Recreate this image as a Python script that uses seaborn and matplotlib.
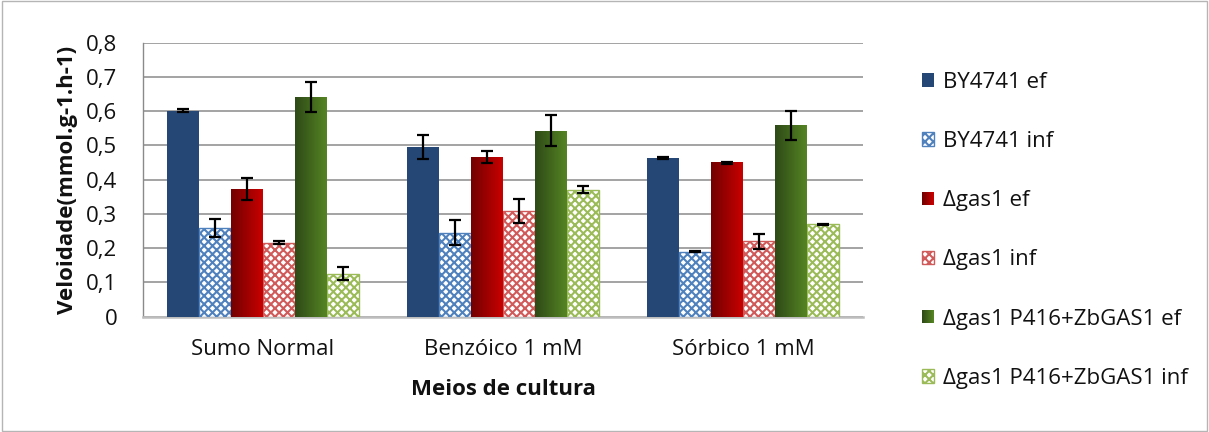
import numpy as np
import pandas as pd
import matplotlib
matplotlib.use("Agg")
import matplotlib.pyplot as plt
import seaborn as sns
from matplotlib.patches import Patch, Rectangle
from matplotlib.legend_handler import HandlerBase
from matplotlib.colors import to_rgb

# ---- data -------------------------------------------------------------
media = ["Sumo Normal", "Benzóico 1 mM", "Sórbico 1 mM"]
strains = ["BY4741 ef", "BY4741 inf", "Δgas1 ef", "Δgas1 inf",
           "Δgas1 P416+ZbGAS1 ef", "Δgas1 P416+ZbGAS1 inf"]

by_ef = [0.601, 0.496, 0.462]
by_inf = [0.259, 0.245, 0.190]
gas_ef = [0.373, 0.466, 0.450]
gas_inf = [0.216, 0.309, 0.220]
zb_ef = [0.641, 0.543, 0.559]
zb_inf = [0.126, 0.371, 0.270]

by_ef_err = [0.004, 0.035, 0.003]
by_inf_err = [0.025, 0.037, 0.002]
gas_ef_err = [0.031, 0.018, 0.003]
gas_inf_err = [0.005, 0.036, 0.021]
zb_ef_err = [0.043, 0.046, 0.042]
zb_inf_err = [0.020, 0.011, 0.002]

yticks = [0.0, 0.1, 0.2, 0.3, 0.4, 0.5, 0.6, 0.7, 0.8]
ytick_labels = ["0", "0,1", "0,2", "0,3", "0,4", "0,5", "0,6", "0,7", "0,8"]

values = [by_ef, by_inf, gas_ef, gas_inf, zb_ef, zb_inf]
errors = [by_ef_err, by_inf_err, gas_ef_err, gas_inf_err, zb_ef_err, zb_inf_err]

df = pd.DataFrame({
    "meio": [m for _ in strains for m in media],
    "estirpe": [s for s in strains for _ in media],
    "vel": [v for vals in values for v in vals],
    "err": [e for errs in errors for e in errs],
})

# ---- style ------------------------------------------------------------
sns.set_theme(style="white")
plt.rcParams["font.family"] = ["Open Sans", "DejaVu Sans"]
plt.rcParams["hatch.linewidth"] = 1.5

base = {
    "BY4741 ef": "#254775",
    "BY4741 inf": "#4f81bd",
    "Δgas1 ef": "#a00000",
    "Δgas1 inf": "#d05a5a",
    "Δgas1 P416+ZbGAS1 ef": "#4a7523",
    "Δgas1 P416+ZbGAS1 inf": "#9bbb59",
}
gradients = {
    "Δgas1 ef": ("#720000", "#c80000"),
    "Δgas1 P416+ZbGAS1 ef": ("#2e4a17", "#558422"),
}

fig = plt.figure(figsize=(12.09, 4.32), dpi=100)
ax = fig.add_axes([0.1183, 0.2669, 0.5955, 0.6343])

sns.barplot(data=df, x="meio", y="vel", hue="estirpe", order=media,
            hue_order=strains, palette=base, width=0.8, errorbar=None,
            saturation=1, ax=ax, legend=False, zorder=3)

# style each series; hatched bars for the "inf" series
for name, cont in zip(strains, ax.containers):
    for bar in cont:
        if name.endswith("inf"):
            bar.set_facecolor("white")
            bar.set_edgecolor(base[name])
            bar.set_hatch("xxxx")
            bar.set_linewidth(1.0)
        else:
            bar.set_edgecolor("none")

# left-to-right shading on the gradient-filled series
for name, cont in zip(strains, ax.containers):
    if name in gradients:
        c0, c1 = (np.array(to_rgb(c)) for c in gradients[name])
        t = np.linspace(0, 1, 64)[None, :, None]
        img = c0 + (c1 - c0) * t
        for bar in cont:
            x0, w, h = bar.get_x(), bar.get_width(), bar.get_height()
            ax.imshow(img, extent=[x0, x0 + w, 0, h], aspect="auto",
                      zorder=3.5, interpolation="bilinear")

# error bars at the bar centres
for name, cont, errs in zip(strains, ax.containers, errors):
    xs = [b.get_x() + b.get_width() / 2 for b in cont]
    ys = [b.get_height() for b in cont]
    ax.errorbar(xs, ys, yerr=errs, fmt="none", ecolor="black",
                elinewidth=1.6, capsize=4.5, capthick=1.6, zorder=6)

# ---- axes -------------------------------------------------------------
ax.set_xlim(-0.5, 2.5)
ax.set_ylim(0, 0.8)
ax.set_yticks(yticks)
ax.set_yticklabels(ytick_labels)
ax.yaxis.grid(True, color="#8a8a8a", linewidth=1.1, zorder=0)
ax.set_axisbelow(True)

for side in ["top", "right"]:
    ax.spines[side].set_visible(False)
ax.spines["left"].set_color("#8a8a8a")
ax.spines["left"].set_linewidth(1.0)
ax.spines["bottom"].set_color("#bdbdbd")
ax.spines["bottom"].set_linewidth(1.8)

ax.tick_params(axis="y", which="major", direction="out", length=7.5,
               width=1.0, color="#8a8a8a", labelsize=16, pad=11,
               labelcolor="#111111")
ax.tick_params(axis="x", which="major", length=0, labelsize=16, pad=16,
               labelcolor="#111111")
ax.set_xticks([-0.5, 0.5, 1.5, 2.5], minor=True)
ax.tick_params(axis="x", which="minor", direction="out", length=6.5,
               width=1.0, color="#8a8a8a")

ax.set_xlabel("Meios de cultura", fontsize=16, fontweight="bold",
              labelpad=14, color="#111111")
ax.set_ylabel("Veloidade(mmol.g-1.h-1)", fontsize=16, fontweight="bold",
              labelpad=6, color="#111111")


# ---- legend -----------------------------------------------------------
class GradientHandler(HandlerBase):
    def __init__(self, c0, c1, n=12):
        super().__init__()
        self.c0 = np.array(to_rgb(c0))
        self.c1 = np.array(to_rgb(c1))
        self.n = n

    def create_artists(self, legend, orig_handle, xdescent, ydescent,
                       width, height, fontsize, trans):
        arts = []
        for i in range(self.n):
            col = self.c0 + (self.c1 - self.c0) * i / (self.n - 1)
            arts.append(Rectangle((-xdescent + i * width / self.n, -ydescent),
                                  width / self.n * 1.05, height,
                                  facecolor=col, edgecolor="none",
                                  transform=trans))
        return arts


handles = []
handler_map = {}
for name in strains:
    if name.endswith("inf"):
        h = Patch(facecolor="white", edgecolor=base[name], hatch="xxxx",
                  linewidth=1.0)
    else:
        h = Patch(facecolor=base[name], edgecolor="none")
        if name in gradients:
            handler_map[h] = GradientHandler(*gradients[name])
    handles.append(h)

fig.legend(handles, strains, handler_map=handler_map, loc="center left",
           bbox_to_anchor=(0.7626, 0.467), frameon=False, fontsize=16,
           handlelength=0.55, handleheight=0.55, handletextpad=0.4,
           labelspacing=1.72, borderpad=0, borderaxespad=0,
           labelcolor="#111111")

# thin frame round the whole figure
fig.patches.append(Rectangle((0.002, 0.002), 0.996, 0.995,
                             transform=fig.transFigure, fill=False,
                             edgecolor="#b5b5b5", linewidth=1.0))

fig.savefig("out.png", dpi=100)
